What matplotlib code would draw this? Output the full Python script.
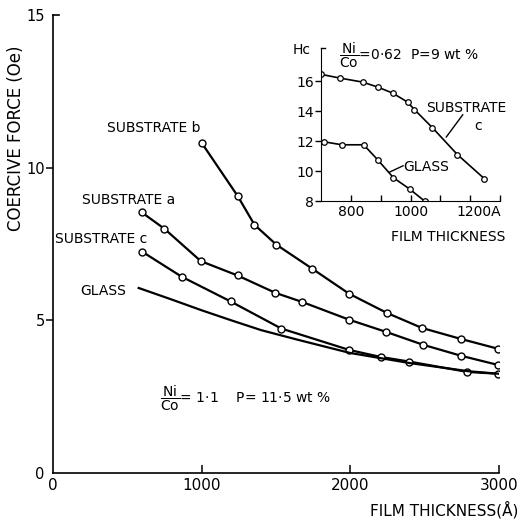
"""
Coercive force of Ni-Co-P films against film thickness on several substrates,
with an inset for the Ni/Co = 0.62 series.
"""

import matplotlib
matplotlib.use("Agg")
import matplotlib.pyplot as plt
import matplotlib.transforms as mtransforms

# ======================  Data  ======================
# --- Main plot: Ni/Co = 1.1, P = 11.5 wt %
sub_b_x = [1000, 1242, 1356, 1503, 1745, 1993, 2248, 2483, 2745, 2993]
sub_b_y = [10.82, 9.08, 8.13, 7.48, 6.69, 5.87, 5.24, 4.75, 4.39, 4.07]

sub_a_x = [597, 750, 995, 1242, 1497, 1678, 1993, 2242, 2490, 2745, 2993]
sub_a_y = [8.54, 8.0, 6.94, 6.47, 5.9, 5.6, 5.02, 4.62, 4.2, 3.84, 3.54]

sub_c_x = [600, 866, 1195, 1537, 1993, 2205, 2396, 2788, 2993]
sub_c_y = [7.25, 6.43, 5.62, 4.73, 4.03, 3.8, 3.65, 3.31, 3.25]

glass_x = [577, 800, 1000, 1200, 1400, 1650, 2000, 2400, 2800, 3000]
glass_y = [6.06, 5.68, 5.33, 5.0, 4.68, 4.36, 3.93, 3.6, 3.33, 3.25]

# --- Inset: Ni/Co = 0.62, P = 9 wt %
in_c_x = [700, 763, 840, 890, 940, 990, 1013, 1073, 1157, 1247]
in_c_y = [16.45, 16.2, 15.93, 15.6, 15.2, 14.6, 14.1, 12.9, 11.1, 9.5]

in_glass_x = [710, 770, 843, 890, 943, 997, 1047]
in_glass_y = [11.95, 11.75, 11.75, 10.75, 9.55, 8.8, 8.0]

main_xticks = [0, 1000, 2000, 3000]
main_yticks = [0, 5, 10, 15]
inset_xticks = [800, 900, 1000, 1100, 1200, 1300]
inset_xlabels = ["800", "", "1000", "", "1200A", ""]
inset_yticks = [8, 10, 12, 14, 16]

FONT = "DejaVu Sans"
plt.rcParams["font.family"] = FONT
plt.rcParams["mathtext.fontset"] = "dejavusans"

line_kw = dict(color="black", lw=1.6)
marker_kw = dict(color="black", lw=1.6, marker="o", ms=5,
                 mfc="white", mec="black", mew=1.0)
NICO = r"$\dfrac{\mathrm{Ni}}{\mathrm{Co}}$"

fig = plt.figure(figsize=(5.24, 5.22), dpi=100)

# ======================  Main axes  ======================
ax = fig.add_axes([0.101, 0.094, 0.851, 0.877])
ax.plot(sub_b_x, sub_b_y, **marker_kw)
ax.plot(sub_a_x, sub_a_y, **marker_kw)
ax.plot(sub_c_x, sub_c_y, **marker_kw)
ax.plot(glass_x, glass_y, **line_kw)

ax.set_xlim(0, 3000)
ax.set_ylim(0, 15)
for side in ["top", "right"]:
    ax.spines[side].set_visible(False)
for side in ["left", "bottom"]:
    ax.spines[side].set_linewidth(1.2)

ax.set_xticks(main_xticks)
ax.set_yticks(main_yticks)
ax.set_xticklabels([str(t) for t in main_xticks])
ax.set_yticklabels([str(t) for t in main_yticks])
ax.tick_params(axis="x", direction="in", length=6, width=1.1,
               labelsize=11, pad=4)
ax.tick_params(axis="y", direction="out", length=5, width=1.1,
               labelsize=10.5, pad=1)
ax.xaxis.get_major_ticks()[0].tick1line.set_visible(False)
ax.yaxis.get_major_ticks()[0].tick1line.set_visible(False)
ax.yaxis.get_major_ticks()[-1].tick1line.set_visible(False)
# small stub at the top of the y axis
ax.plot([0, 0.014], [1, 1], transform=ax.transAxes, color="black",
        lw=1.2, clip_on=False)

ax.text(362, 11.31, "SUBSTRATE b", fontsize=10, va="center")
ax.text(195, 8.95, "SUBSTRATE a", fontsize=10, va="center")
ax.text(13, 7.67, "SUBSTRATE c", fontsize=10, va="center")
ax.text(181, 5.97, "GLASS", fontsize=10, va="center")
ax.text(720, 2.46, NICO + "= 1·1    P= 11·5 wt %",
        fontsize=10, va="center")

fig.text(16 / 524, 1 - 138 / 522, "COERCIVE FORCE (Oe)", rotation=90,
         ha="center", va="center", fontsize=12)
fig.text(518 / 524, 1 - 510 / 522, "FILM THICKNESS(Å)", ha="right",
         va="center", fontsize=11)

# ======================  Inset  ======================
ins = fig.add_axes([0.6126, 0.6149, 0.3416, 0.293])
ins.patch.set_alpha(0)
ins.plot(in_c_x, in_c_y, color="black", lw=1.2, marker="o", ms=4,
         mfc="white", mec="black", mew=0.9)
ins.plot(in_glass_x, in_glass_y, color="black", lw=1.2, marker="o", ms=4,
         mfc="white", mec="black", mew=0.9)
ins.set_xlim(700, 1300)
ins.set_ylim(8, 18.2)
for side in ["top", "right"]:
    ins.spines[side].set_visible(False)
ins.set_xticks(inset_xticks)
ins.set_xticklabels(inset_xlabels)
ins.set_yticks(inset_yticks)
ins.set_yticklabels([str(t) for t in inset_yticks])
ins.tick_params(axis="x", direction="in", length=4, width=1.0,
                labelsize=10, pad=3)
ins.tick_params(axis="y", direction="out", length=4, width=1.0,
                labelsize=10, pad=1)
# keep "1200" centred on its tick with the unit trailing after it
lbl = ins.get_xticklabels()[4]
lbl.set_horizontalalignment("left")
lbl.set_transform(lbl.get_transform() + mtransforms.ScaledTranslation(
    -0.14, 0, fig.dpi_scale_trans))
ins.plot([0, 0.025], [1, 1], transform=ins.transAxes, color="black",
         lw=1.0, clip_on=False)

ins.text(605, 18.05, "Hc", fontsize=10, va="center")
ins.text(760, 17.7, NICO + "=0·62  P=9 wt %",
         fontsize=10, va="center")
ins.text(1053, 14.2, "SUBSTRATE", fontsize=10, va="center")
ins.text(1215, 13.0, "c", fontsize=10, va="center")
ins.plot([1120, 1175], [12.27, 13.75], color="black", lw=1.0)
ins.text(977, 10.27, "GLASS", fontsize=10, va="center")
ins.plot([930, 975], [9.93, 10.35], color="black", lw=1.0)
fig.text(505 / 524, 1 - 237 / 522, "FILM THICKNESS", ha="right",
         va="center", fontsize=10)

fig.savefig("out.png", dpi=100)
